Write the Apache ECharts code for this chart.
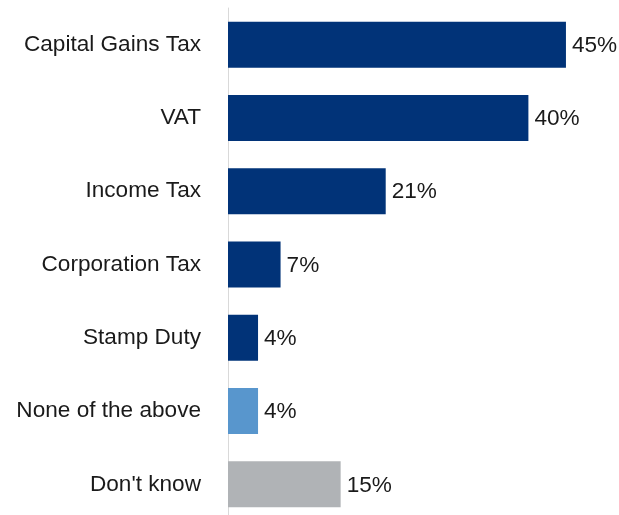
<!DOCTYPE html>
<html>
<head>
<meta charset="utf-8">
<script src="https://cdn.jsdelivr.net/npm/echarts@6/dist/echarts.min.js"></script>
<style>
  html, body { margin: 0; padding: 0; background: #ffffff; overflow: hidden; }
  /* the last band runs a few pixels past the bottom edge of the view */
  #chart { width: 619px; height: 530px; }
</style>
</head>
<body>
<div id="chart"></div>
<script>
// Which taxes respondents named (share of respondents, %)
const categories = [
  'Capital Gains Tax',
  'VAT',
  'Income Tax',
  'Corporation Tax',
  'Stamp Duty',
  'None of the above',
  "Don't know"
];
const values = [45, 40, 21, 7, 4, 4, 15];
const barColors = ['#013378', '#013378', '#013378', '#013378', '#013378', '#5896cd', '#b0b3b6'];

const chart = echarts.init(document.getElementById('chart'), null, { renderer: 'canvas' });

const FONT = '"Liberation Sans", Arial, sans-serif';

chart.setOption({
  animation: false,
  backgroundColor: '#ffffff',
  grid: { left: 228, top: 8, height: 513, right: 15.5, containLabel: false },
  xAxis: {
    type: 'value',
    min: 0,
    max: 50,
    show: false
  },
  yAxis: {
    type: 'category',
    data: categories,
    inverse: true,
    axisLine: { show: true, lineStyle: { color: '#d9d9d9', width: 1 } },
    axisTick: { show: false },
    splitLine: { show: false },
    axisLabel: {
      margin: 27,
      color: '#1a1a1a',
      fontFamily: FONT,
      fontSize: 22.6
    }
  },
  series: [{
    type: 'bar',
    barWidth: 46,
    data: values.map((v, i) => ({ value: v, itemStyle: { color: barColors[i] } })),
    label: {
      show: true,
      position: 'right',
      distance: 6,
      offset: [0, 1],
      color: '#1a1a1a',
      fontFamily: FONT,
      fontSize: 22.6,
      formatter: p => p.value + '%'
    }
  }]
});
</script>
</body>
</html>
